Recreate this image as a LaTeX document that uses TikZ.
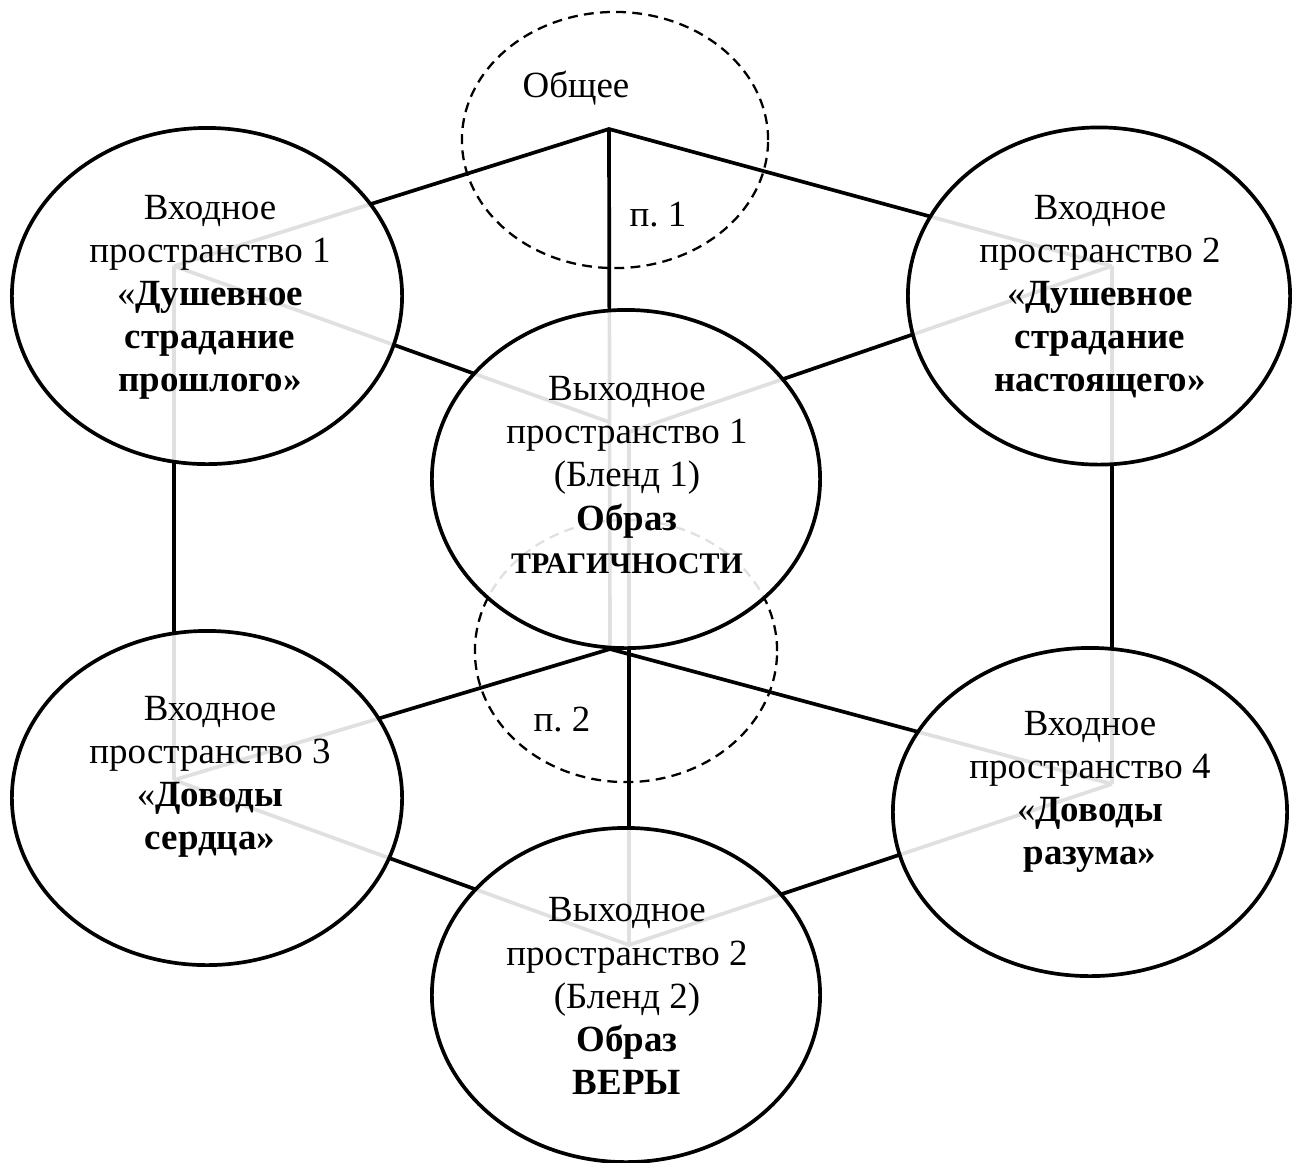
\documentclass[tikz,border=0pt]{standalone}
\usepackage{fontspec}
\setmainfont{Liberation Serif}
\usetikzlibrary{shapes.geometric}

\tikzset{
  space/.style={ellipse, draw, line width=1.05pt, fill=white, fill opacity=0.88,
    text opacity=1, inner sep=0pt},
  part/.style={ellipse, draw, line width=0.65pt, dash pattern=on 2.8pt off 1.8pt,
    inner sep=0pt},
  link/.style={line width=1.05pt},
  txt/.style={align=center, inner sep=0pt, font=\fontsize{10.5}{12.24}\selectfont},
}

\begin{document}
\begin{tikzpicture}[x=0.01cm, y=-0.01cm]
    \useasboundingbox (0,0) rectangle (1293,1162);
    % junctions and hubs
    \coordinate (j1) at (609,129);
    \coordinate (j2) at (610,649);
    \coordinate (h1) at (174,266);
    \coordinate (h2) at (1112,266);
    \coordinate (h3) at (174,780);
    \coordinate (h4) at (1112,784);
    \coordinate (o1l) at (609,422);
    \coordinate (o1r) at (629,432);
    \coordinate (o2) at (629,945);
    % generic spaces
    \node[part, minimum width=3.06cm, minimum height=2.56cm] (p1) at (615,140) {};
    \node[part, minimum width=3.02cm, minimum height=2.62cm] (p2) at (626,651) {};
    % links
    \draw[link] (h1) -- (j1) -- (h2);
    \draw[link] (j1) -- (j2);
    \draw[link] (h3) -- (j2) -- (h4);
    \draw[link] (h1) -- (o1l);
    \draw[link] (h2) -- (o1r);
    \draw[link] (h1) -- (h3);
    \draw[link] (h2) -- (h4);
    \draw[link] (o1r) -- (o2);
    \draw[link] (h3) -- (o2) -- (h4);
    % input and output spaces
    \node[space, minimum width=3.90cm, minimum height=3.36cm] (in1) at (207,296) {};
    \node[space, minimum width=3.82cm, minimum height=3.37cm] (in2) at (1099,296) {};
    \node[space, minimum width=3.88cm, minimum height=3.38cm] (out1) at (626,479) {};
    \node[space, minimum width=3.90cm, minimum height=3.34cm] (in3) at (207,798) {};
    \node[space, minimum width=3.94cm, minimum height=3.28cm] (in4) at (1090,812) {};
    \node[space, minimum width=3.88cm, minimum height=3.34cm] (out2) at (626,995) {};
    % texts
    \node[txt] (in1t) at (210,297) {Входное\\пространство 1\\«\textbf{Душевное}\\
      \textbf{страдание}\\\textbf{прошлого»}};
    \node[txt] (in2t) at (1100,297) {Входное\\пространство 2\\«\textbf{Душевное}\\
      \textbf{страдание}\\\textbf{настоящего»}};
    \node[txt] (out1t) at (627,475) {Выходное\\пространство 1\\(Бленд 1)\\\textbf{Образ}\\
      {\fontsize{8.5}{12.24}\selectfont\textbf{ТРАГИЧНОСТИ}}};
    \node[txt] (in3t) at (210,777) {Входное\\пространство 3\\«\textbf{Доводы}\\
      \textbf{сердца»}};
    \node[txt] (in4t) at (1090,792) {Входное\\пространство 4\\«\textbf{Доводы}\\
      \textbf{разума»}};
    \node[txt] (out2t) at (627,996) {Выходное\\пространство 2\\(Бленд 2)\\\textbf{Образ}\\
      \textbf{ВЕРЫ}};
    \node[txt] (common) at (576,88) {Общее};
    \node[txt] (p1t) at (658,215) {п.\ 1};
    \node[txt] (p2t) at (562,720) {п.\ 2};
\end{tikzpicture}
\end{document}
